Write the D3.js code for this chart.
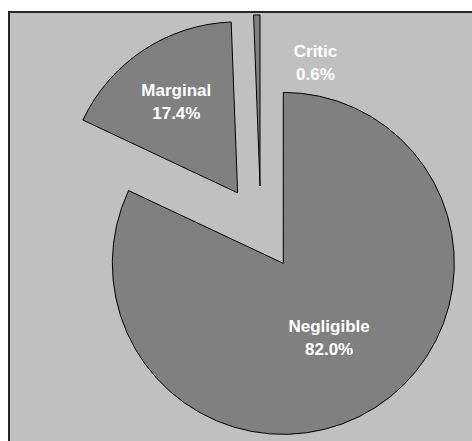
<!DOCTYPE html>
<html>
<head>
<meta charset="utf-8">
<script src="https://cdn.jsdelivr.net/npm/d3@7"></script>
<style>
  html, body { margin: 0; padding: 0; background: #fff; }
  svg { display: block; }
</style>
</head>
<body>
<div id="chart"></div>
<script>
// slice data, in drawing order (clockwise from 12 o'clock)
var categories = ["Negligible", "Marginal", "Critic"];
var shares = [82.0, 17.4, 0.6];
var shareLabels = ["82.0%", "17.4%", "0.6%"];

var W = 472, H = 441;
var cx = 260.8, cy = 227.9;   // common pie centre before exploding
var radius = 171;
var explode = 42;              // every slice pulled out by this much

// where to put each label: fraction of radius from the slice tip, and angular turn (deg) off the mid angle
var labelPlacement = {
    "Negligible": {k: 0.5, turn: 0},
    "Marginal": {k: 0.65, turn: 0},
    "Critic": {k: 0.8, turn: 25}
};

var svg = d3.select("#chart").append("svg")
    .attr("width", W)
    .attr("height", H);

// chart area frame (runs off the right and bottom edge)
svg.append("rect")
    .attr("x", 9)
    .attr("y", 12)
    .attr("width", W + 20)
    .attr("height", H + 20)
    .attr("fill", "#c0c0c0")
    .attr("stroke", "#262626")
    .attr("stroke-width", 2);

var data = categories.map(function(c, i) {
    return {name: c, value: shares[i], label: shareLabels[i]};
});

var pie = d3.pie()
    .sort(null)
    .value(function(d) { return d.value; });

var arc = d3.arc()
    .innerRadius(0)
    .outerRadius(radius);

var arcs = pie(data);

function dirOf(angle) {
    return [Math.sin(angle), -Math.cos(angle)];
}

var plot = svg.append("g")
    .attr("transform", "translate(" + cx + "," + cy + ")");

var slices = plot.selectAll(".slice")
    .data(arcs)
    .enter().append("g")
    .attr("class", "slice")
    .attr("transform", function(d) {
        var v = dirOf((d.startAngle + d.endAngle) / 2);
        return "translate(" + (v[0] * explode) + "," + (v[1] * explode) + ")";
    });

slices.append("path")
    .attr("d", arc)
    .attr("fill", "#808080")
    .attr("stroke", "#000")
    .attr("stroke-width", 1)
    .attr("stroke-linejoin", "miter");

var labels = slices.append("text")
    .attr("text-anchor", "middle")
    .attr("fill", "#fff")
    .attr("font-family", "Arial, 'Liberation Sans', sans-serif")
    .attr("font-weight", "bold")
    .attr("font-size", "17px")
    .attr("transform", function(d) {
        var p = labelPlacement[d.data.name];
        var a = (d.startAngle + d.endAngle) / 2 + p.turn * Math.PI / 180;
        var v = dirOf(a);
        return "translate(" + (v[0] * p.k * radius) + "," + (v[1] * p.k * radius) + ")";
    });

labels.append("tspan")
    .attr("x", 0)
    .attr("y", -4)
    .text(function(d) { return d.data.name; });

labels.append("tspan")
    .attr("x", 0)
    .attr("y", 19)
    .text(function(d) { return d.data.label; });
</script>
</body>
</html>
